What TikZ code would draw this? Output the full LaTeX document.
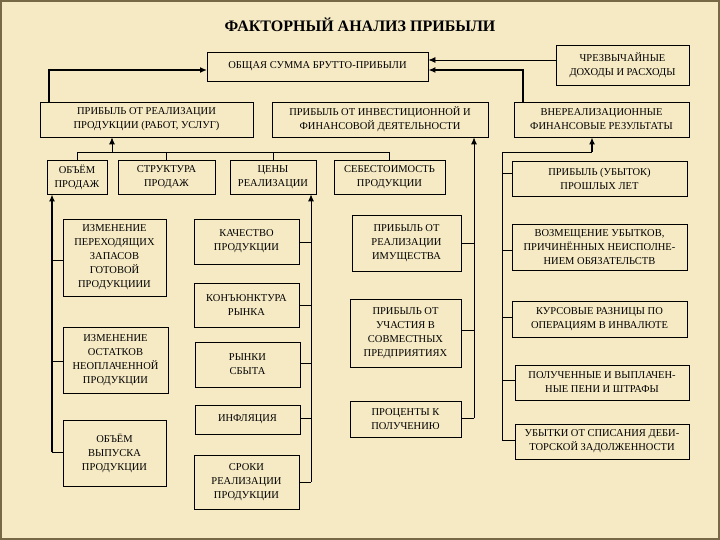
\documentclass[tikz,border=0pt]{standalone}
\usepackage{fontspec}
\usetikzlibrary{arrows.meta}
\setmainfont{Liberation Serif}
\begin{document}
\begin{tikzpicture}[x=1pt,y=-1pt,
  bx/.style={draw=black,line width=0.8pt,align=center,inner sep=0pt,font=\fontsize{10.5}{14}\selectfont},
  ln/.style={line width=0.8pt},
  thk/.style={line width=1.8pt},
  arr/.style={-{Latex[length=7pt,width=6pt]}}]
\fill[fill={rgb,255:red,246;green,234;blue,196}] (0,0) rectangle (720,540);
\draw[line width=2pt,draw={rgb,255:red,120;green,105;blue,70}] (1,1) rectangle (719,539);
\newcommand{\bxn}[6]{\node[bx,minimum width={#4-#2},minimum height={#5-#3}] (#1) at ({(#2+#4)/2},{(#3+#5)/2}) {#6};}
\node[font=\bfseries\fontsize{16}{18}\selectfont] (title) at (360,25) {ФАКТОРНЫЙ АНАЛИЗ ПРИБЫЛИ};
\bxn{brutto}{207}{52}{428}{81}{ОБЩАЯ СУММА БРУТТО-ПРИБЫЛИ}
\bxn{chr}{556}{45}{689}{85}{ЧРЕЗВЫЧАЙНЫЕ\\ДОХОДЫ И РАСХОДЫ}
\bxn{preal}{40}{102}{253}{137}{ПРИБЫЛЬ ОТ РЕАЛИЗАЦИИ\\ПРОДУКЦИИ (РАБОТ, УСЛУГ)}
\bxn{pinv}{272}{102}{488}{137}{ПРИБЫЛЬ ОТ ИНВЕСТИЦИОННОЙ И\\ФИНАНСОВОЙ ДЕЯТЕЛЬНОСТИ}
\bxn{vner}{514}{102}{689}{137}{ВНЕРЕАЛИЗАЦИОННЫЕ\\ФИНАНСОВЫЕ РЕЗУЛЬТАТЫ}
\bxn{obp}{47}{160}{107}{194}{ОБЪЁМ\\ПРОДАЖ}
\bxn{str}{118}{160}{215}{194}{СТРУКТУРА\\ПРОДАЖ}
\bxn{cen}{230}{160}{316}{194}{ЦЕНЫ\\РЕАЛИЗАЦИИ}
\bxn{seb}{334}{160}{445}{194}{СЕБЕСТОИМОСТЬ\\ПРОДУКЦИИ}
\bxn{prosh}{512}{161}{687}{196}{ПРИБЫЛЬ (УБЫТОК)\\ПРОШЛЫХ ЛЕТ}
\bxn{izp}{63}{219}{166}{296}{ИЗМЕНЕНИЕ\\ПЕРЕХОДЯЩИХ\\ЗАПАСОВ\\ГОТОВОЙ\\ПРОДУКЦИИИ}
\bxn{kach}{194}{219}{299}{264}{КАЧЕСТВО\\ПРОДУКЦИИ}
\bxn{pim}{352}{215}{461}{271}{ПРИБЫЛЬ ОТ\\РЕАЛИЗАЦИИ\\ИМУЩЕСТВА}
\bxn{voz}{512}{224}{687}{270}{ВОЗМЕЩЕНИЕ УБЫТКОВ,\\ПРИЧИНЁННЫХ НЕИСПОЛНЕ-\\НИЕМ ОБЯЗАТЕЛЬСТВ}
\bxn{kon}{194}{283}{299}{327}{КОНЪЮНКТУРА\\РЫНКА}
\bxn{izo}{63}{327}{168}{393}{ИЗМЕНЕНИЕ\\ОСТАТКОВ\\НЕОПЛАЧЕННОЙ\\ПРОДУКЦИИ}
\bxn{ryn}{195}{342}{300}{387}{РЫНКИ\\СБЫТА}
\bxn{puch}{350}{299}{461}{367}{ПРИБЫЛЬ ОТ\\УЧАСТИЯ В\\СОВМЕСТНЫХ\\ПРЕДПРИЯТИЯХ}
\bxn{kurs}{512}{301}{687}{337}{КУРСОВЫЕ РАЗНИЦЫ ПО\\ОПЕРАЦИЯМ В ИНВАЛЮТЕ}
\bxn{infl}{195}{405}{300}{434}{ИНФЛЯЦИЯ}
\bxn{obv}{63}{420}{166}{486}{ОБЪЁМ\\ВЫПУСКА\\ПРОДУКЦИИ}
\bxn{proc}{350}{401}{461}{437}{ПРОЦЕНТЫ К\\ПОЛУЧЕНИЮ}
\bxn{pen}{515}{365}{689}{400}{ПОЛУЧЕННЫЕ И ВЫПЛАЧЕН-\\НЫЕ ПЕНИ И ШТРАФЫ}
\bxn{ubyt}{515}{424}{689}{459}{УБЫТКИ ОТ СПИСАНИЯ ДЕБИ-\\ТОРСКОЙ ЗАДОЛЖЕННОСТИ}
\bxn{srok}{194}{455}{299}{509}{СРОКИ\\РЕАЛИЗАЦИИ\\ПРОДУКЦИИ}
% top level
\draw[thk,arr] (preal.north west)++(9,0) |- (207,70);
\draw[ln,arr] (chr.west|-0,60) -- (brutto.east|-0,60);
\draw[thk,arr] (vner.north west)++(9,0) |- (brutto.east|-0,70);
% bus under preal
\draw[ln] (obp.north|-0,152) -- (seb.north|-0,152);
\foreach \n in {obp,str,cen,seb} \draw[ln] (\n.north|-0,152) -- (\n.north);
\draw[ln,arr] (112,152) -- (preal.south-|112,0);
% left column
\coordinate (lb) at (52,452);
\draw[thk,arr] (lb) -- (obp.south-|lb);
\foreach \n/\y in {izp/260,izo/361,obv/452} \draw[ln] (52,\y) -- (\n.west|-0,\y);
% price column
\coordinate (cb) at (311,482);
\draw[ln,arr] (cb) -- (cen.south-|cb);
\foreach \n/\y in {kach/242,kon/305,ryn/363,infl/418,srok/482} \draw[ln] (\n.east|-0,\y) -- (311,\y);
% invest column
\coordinate (ib) at (474,418);
\draw[ln,arr] (ib) -- (pinv.south-|ib);
\foreach \n/\y in {pim/243,puch/330,proc/418} \draw[ln] (\n.east|-0,\y) -- (474,\y);
% vnereal column
\coordinate (vb) at (502,440);
\draw[ln] (vb) -- (502,152) -- (592,152);
\draw[thk,arr] (592,152) -- (vner.south-|592,0);
\foreach \n/\y in {prosh/173,voz/250,kurs/317,pen/380,ubyt/440} \draw[ln] (502,\y) -- (\n.west|-0,\y);
\end{tikzpicture}
\end{document}
